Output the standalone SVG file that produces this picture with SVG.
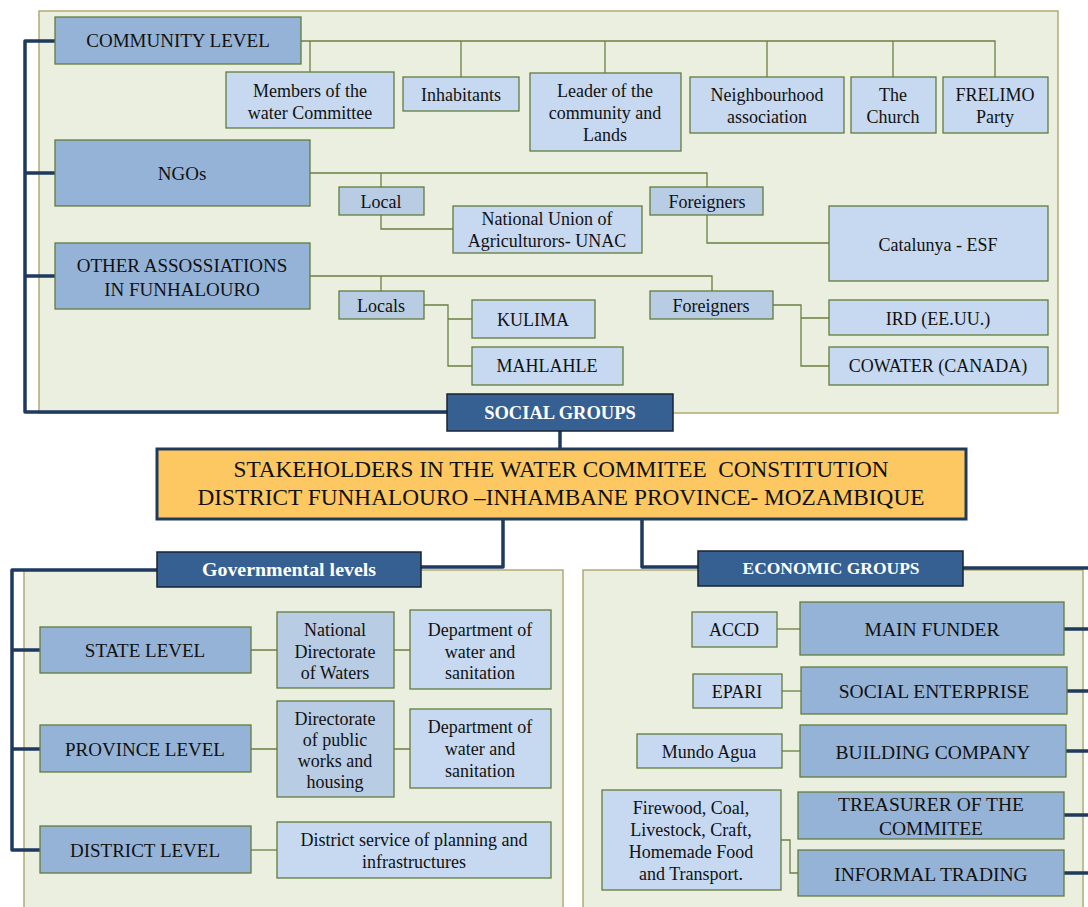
<svg xmlns="http://www.w3.org/2000/svg" width="1088" height="907" viewBox="0 0 1088 907">
  <style>
    .panel { fill: #ebefdf; stroke: #b3ab74; stroke-width: 1.5; }
    .lvl { fill: #95b3d7; stroke: #637c3d; stroke-width: 1.3; }
    .sub { fill: #c6d9f1; stroke: #637c3d; stroke-width: 1.3; }
    .mid { fill: #b8cce4; stroke: #637c3d; stroke-width: 1.3; }
    .hdr { fill: #366092; stroke: #1a2333; stroke-width: 1.5; }
    .ttl { fill: #fdc861; stroke: #1f3a5c; stroke-width: 3; }
    .con { fill: none; stroke: #6b8040; stroke-width: 1.3; }
    .trunk { fill: none; stroke: #1f3a5f; stroke-width: 3.5; stroke-linejoin: round; }
    text { fill: #111; text-anchor: middle; }
    .t18 { font-size: 18px; }
    .t19 { font-size: 19px; }
    .t195 { font-size: 19.5px; }
    .hw { fill: #ffffff; font-weight: bold; }
  </style>

  <!-- background panels -->
  <rect class="panel" x="39" y="11" width="1019" height="402"/>
  <rect class="panel" x="24" y="570" width="539" height="345"/>
  <rect class="panel" x="583" y="570" width="500" height="345"/>

  <!-- connectors -->
  <g id="connectors">
    <!-- main trunks -->
    <path class="trunk" d="M55,41 H25 V412 H447 M25,173 H55 M25,276 H55"/>
    <path class="trunk" d="M560,431 V449"/>
    <path class="trunk" d="M503,519 V567 H421"/>
    <path class="trunk" d="M642,519 V567 H699"/>
    <path class="trunk" d="M157,570 H12 V850 H40 M12,650 H40 M12,749 H40"/>
    <path class="trunk" d="M963,568 H1088 M1064,629 H1088 M1067,691 H1088 M1066,751 H1088 M1064,815 H1088 M1064,873 H1088"/>

    <!-- community level -->
    <path class="con" d="M301,41 H995 V77 M310,41 V72 M461,41 V77 M605,41 V73 M767,41 V77 M893,41 V77"/>
    <!-- NGOs -->
    <path class="con" d="M310,173 H707 V187 M381,173 V187"/>
    <path class="con" d="M381,215 V229 H453"/>
    <path class="con" d="M707,215 V243 H829"/>
    <!-- other associations -->
    <path class="con" d="M310,276 H712 V291 M381,276 V291"/>
    <path class="con" d="M424,305 H448 V366 H472 M448,319 H472"/>
    <path class="con" d="M773,305 H801 V366 H829 M801,318 H829"/>
    <!-- governmental -->
    <path class="con" d="M251,650 H277 M394,650 H410"/>
    <path class="con" d="M251,749 H277 M394,749 H410"/>
    <path class="con" d="M251,850 H277"/>
    <!-- economic -->
    <path class="con" d="M777,629 H800"/>
    <path class="con" d="M782,691 H801"/>
    <path class="con" d="M782,751 H800"/>
    <path class="con" d="M781,840 H790 V873 H798"/>
  </g>

  <g font-family="'Liberation Serif', 'DejaVu Serif', serif">
  <!-- social groups -->
  <g id="community-level">
    <rect class="lvl" x="55" y="17" width="246" height="47"/>
    <text class="t19" x="178" y="47">COMMUNITY LEVEL</text>
  </g>
  <g id="members">
    <rect class="sub" x="226" y="72" width="168" height="56"/>
    <text class="t18" x="310" y="97">Members of the</text>
    <text class="t18" x="310" y="119">water Committee</text>
  </g>
  <g id="inhabitants">
    <rect class="sub" x="403" y="77" width="116" height="34"/>
    <text class="t18" x="461" y="101">Inhabitants</text>
  </g>
  <g id="leader">
    <rect class="sub" x="530" y="73" width="151" height="78"/>
    <text class="t18" x="605" y="97">Leader of the</text>
    <text class="t18" x="605" y="119">community and</text>
    <text class="t18" x="605" y="141">Lands</text>
  </g>
  <g id="neighbourhood">
    <rect class="sub" x="690" y="77" width="154" height="56"/>
    <text class="t18" x="767" y="101">Neighbourhood</text>
    <text class="t18" x="767" y="123">association</text>
  </g>
  <g id="church">
    <rect class="sub" x="851" y="77" width="85" height="56"/>
    <text class="t18" x="893" y="101">The</text>
    <text class="t18" x="893" y="123">Church</text>
  </g>
  <g id="frelimo">
    <rect class="sub" x="943" y="77" width="105" height="56"/>
    <text class="t18" x="995" y="101">FRELIMO</text>
    <text class="t18" x="995" y="123">Party</text>
  </g>

  <g id="ngos">
    <rect class="lvl" x="55" y="140" width="255" height="66"/>
    <text class="t19" x="182" y="180">NGOs</text>
  </g>
  <g id="ngo-local">
    <rect class="mid" x="339" y="187" width="85" height="28"/>
    <text class="t18" x="381" y="208">Local</text>
  </g>
  <g id="unac">
    <rect class="sub" x="453" y="206" width="189" height="47"/>
    <text class="t18" x="547" y="225">National Union of</text>
    <text class="t18" x="547" y="247">Agriculturors- UNAC</text>
  </g>
  <g id="ngo-foreigners">
    <rect class="mid" x="650" y="187" width="113" height="28"/>
    <text class="t18" x="707" y="208">Foreigners</text>
  </g>
  <g id="catalunya">
    <rect class="sub" x="829" y="206" width="219" height="75"/>
    <text class="t18" x="938" y="251">Catalunya - ESF</text>
  </g>

  <g id="other-associations">
    <rect class="lvl" x="55" y="243" width="255" height="66"/>
    <text class="t19" x="182" y="272">OTHER ASSOSSIATIONS</text>
    <text class="t19" x="182" y="296">IN FUNHALOURO</text>
  </g>
  <g id="locals">
    <rect class="mid" x="339" y="291" width="85" height="28"/>
    <text class="t18" x="381" y="312">Locals</text>
  </g>
  <g id="kulima">
    <rect class="sub" x="472" y="300" width="123" height="38"/>
    <text class="t18" x="533" y="326">KULIMA</text>
  </g>
  <g id="mahlahle">
    <rect class="sub" x="472" y="347" width="151" height="38"/>
    <text class="t18" x="547" y="372">MAHLAHLE</text>
  </g>
  <g id="other-foreigners">
    <rect class="mid" x="650" y="291" width="123" height="28"/>
    <text class="t18" x="711" y="312">Foreigners</text>
  </g>
  <g id="ird">
    <rect class="sub" x="829" y="300" width="219" height="35"/>
    <text class="t18" x="938" y="325">IRD (EE.UU.)</text>
  </g>
  <g id="cowater">
    <rect class="sub" x="829" y="347" width="219" height="38"/>
    <text class="t18" x="938" y="372">COWATER (CANADA)</text>
  </g>

  <g id="social-groups">
    <rect class="hdr" x="447" y="394" width="226" height="37"/>
    <text class="hw" x="560" y="419" font-size="18.5">SOCIAL GROUPS</text>
  </g>

  <!-- central title -->
  <g id="title">
    <rect class="ttl" x="157" y="449" width="809" height="70"/>
    <text x="561" y="477" font-size="22.5" textLength="655" lengthAdjust="spacingAndGlyphs" xml:space="preserve">STAKEHOLDERS IN THE WATER COMMITEE  CONSTITUTION</text>
    <text x="561" y="505" font-size="22.5" textLength="727" lengthAdjust="spacingAndGlyphs">DISTRICT FUNHALOURO –INHAMBANE PROVINCE- MOZAMBIQUE</text>
  </g>

  <!-- governmental levels -->
  <g id="governmental-levels">
    <rect class="hdr" x="157" y="552" width="264" height="35"/>
    <text class="hw" x="289" y="576" font-size="18" textLength="174" lengthAdjust="spacingAndGlyphs">Governmental levels</text>
  </g>
  <g id="state-level">
    <rect class="lvl" x="40" y="627" width="211" height="46"/>
    <text class="t19" x="145" y="657">STATE LEVEL</text>
  </g>
  <g id="national-directorate">
    <rect class="mid" x="277" y="612" width="117" height="76"/>
    <text class="t18" x="335" y="636">National</text>
    <text class="t18" x="335" y="658">Directorate</text>
    <text class="t18" x="335" y="679">of Waters</text>
  </g>
  <g id="state-department">
    <rect class="sub" x="410" y="610" width="141" height="79"/>
    <text class="t18" x="480" y="636">Department of</text>
    <text class="t18" x="480" y="658">water and</text>
    <text class="t18" x="480" y="679">sanitation</text>
  </g>
  <g id="province-level">
    <rect class="lvl" x="40" y="725" width="211" height="47"/>
    <text class="t19" x="145" y="756">PROVINCE LEVEL</text>
  </g>
  <g id="public-works">
    <rect class="mid" x="277" y="701" width="117" height="96"/>
    <text class="t18" x="335" y="725">Directorate</text>
    <text class="t18" x="335" y="746">of public</text>
    <text class="t18" x="335" y="767">works and</text>
    <text class="t18" x="335" y="788">housing</text>
  </g>
  <g id="province-department">
    <rect class="sub" x="410" y="709" width="141" height="79"/>
    <text class="t18" x="480" y="733">Department of</text>
    <text class="t18" x="480" y="755">water and</text>
    <text class="t18" x="480" y="777">sanitation</text>
  </g>
  <g id="district-level">
    <rect class="lvl" x="40" y="826" width="211" height="47"/>
    <text class="t19" x="145" y="857">DISTRICT LEVEL</text>
  </g>
  <g id="district-service">
    <rect class="sub" x="277" y="822" width="274" height="56"/>
    <text class="t18" x="414" y="846">District service of planning and</text>
    <text class="t18" x="414" y="868">infrastructures</text>
  </g>

  <!-- economic groups -->
  <g id="economic-groups">
    <rect class="hdr" x="698" y="551" width="265" height="35"/>
    <text class="hw" x="831" y="574" font-size="16.5" textLength="177" lengthAdjust="spacingAndGlyphs">ECONOMIC GROUPS</text>
  </g>
  <g id="main-funder">
    <rect class="lvl" x="800" y="602" width="264" height="53"/>
    <text class="t195" x="932" y="636">MAIN FUNDER</text>
  </g>
  <g id="accd">
    <rect class="sub" x="692" y="612" width="85" height="35"/>
    <text class="t18" x="734" y="636">ACCD</text>
  </g>
  <g id="social-enterprise">
    <rect class="lvl" x="801" y="667" width="266" height="47"/>
    <text class="t195" x="934" y="698">SOCIAL ENTERPRISE</text>
  </g>
  <g id="epari">
    <rect class="sub" x="693" y="674" width="89" height="34"/>
    <text class="t18" x="737" y="698">EPARI</text>
  </g>
  <g id="building-company">
    <rect class="lvl" x="800" y="725" width="266" height="52"/>
    <text class="t195" x="933" y="759">BUILDING COMPANY</text>
  </g>
  <g id="mundo-agua">
    <rect class="sub" x="637" y="734" width="145" height="34"/>
    <text class="t18" x="709" y="758">Mundo Agua</text>
  </g>
  <g id="treasurer">
    <rect class="lvl" x="798" y="792" width="266" height="47"/>
    <text class="t195" x="931" y="811">TREASURER OF THE</text>
    <text class="t195" x="931" y="835">COMMITEE</text>
  </g>
  <g id="informal-trading">
    <rect class="lvl" x="798" y="850" width="266" height="46"/>
    <text class="t195" x="931" y="881">INFORMAL TRADING</text>
  </g>
  <g id="informal-goods">
    <rect class="sub" x="602" y="790" width="179" height="100"/>
    <text class="t18" x="691" y="814">Firewood, Coal,</text>
    <text class="t18" x="691" y="836">Livestock, Craft,</text>
    <text class="t18" x="691" y="858">Homemade Food</text>
    <text class="t18" x="691" y="880">and Transport.</text>
  </g>
  </g>
</svg>
